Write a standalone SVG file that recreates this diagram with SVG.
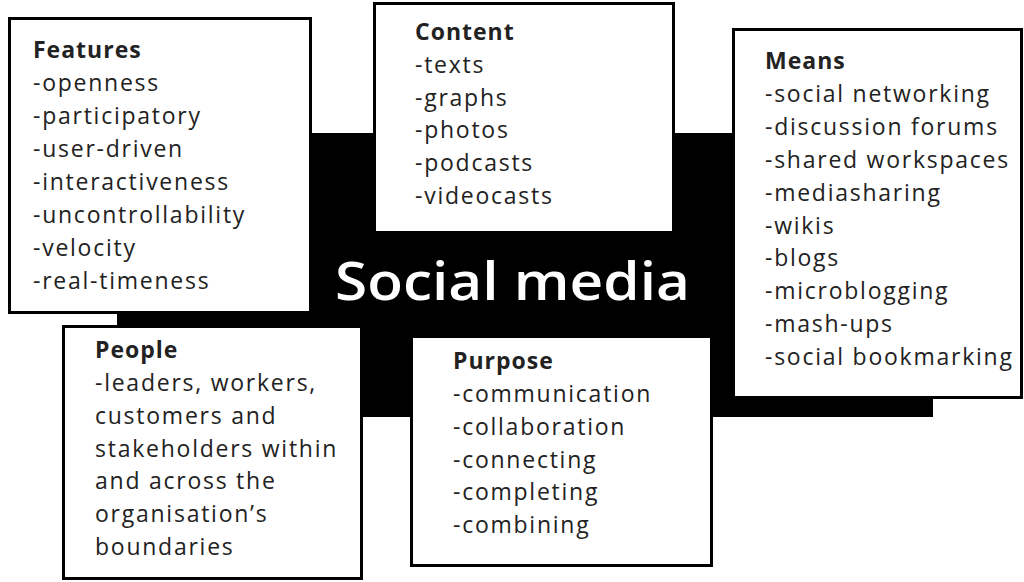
<svg xmlns="http://www.w3.org/2000/svg" width="1024" height="582" viewBox="0 0 1024 582">
<style>
.box{fill:#fff;stroke:#000;stroke-width:3}
.t{font-family:"Open Sans","Liberation Sans",sans-serif;font-size:23px;letter-spacing:1.75px;fill:#222}
.h{font-weight:bold;letter-spacing:1px}
.big{font-family:"Open Sans","Liberation Sans",sans-serif;font-size:52px;font-weight:600;fill:#fff}
</style>
<rect id="bg" x="117" y="133" width="816" height="284" fill="#000"/>
<text class="big" x="335" y="300" textLength="355" lengthAdjust="spacingAndGlyphs">Social media</text>
<g id="features">
<rect class="box" x="9.5" y="18.5" width="301" height="294"/>
<text class="t" x="33"><tspan class="h" x="33" y="58">Features</tspan><tspan x="33" y="91">-openness</tspan><tspan x="33" y="124">-participatory</tspan><tspan x="33" y="157">-user-driven</tspan><tspan x="33" y="190">-interactiveness</tspan><tspan x="33" y="223">-uncontrollability</tspan><tspan x="33" y="256">-velocity</tspan><tspan x="33" y="289">-real-timeness</tspan></text>
</g>
<g id="content">
<rect class="box" x="374.5" y="3.5" width="299" height="229"/>
<text class="t"><tspan class="h" x="415" y="40">Content</tspan><tspan x="415" y="73">-texts</tspan><tspan x="415" y="106">-graphs</tspan><tspan x="415" y="138">-photos</tspan><tspan x="415" y="171">-podcasts</tspan><tspan x="415" y="204">-videocasts</tspan></text>
</g>
<g id="means">
<rect class="box" x="733.5" y="29.5" width="288" height="368"/>
<text class="t"><tspan class="h" x="765" y="69">Means</tspan><tspan x="765" y="102">-social networking</tspan><tspan x="765" y="135">-discussion forums</tspan><tspan x="765" y="168">-shared workspaces</tspan><tspan x="765" y="201">-mediasharing</tspan><tspan x="765" y="234">-wikis</tspan><tspan x="765" y="266">-blogs</tspan><tspan x="765" y="299">-microblogging</tspan><tspan x="765" y="332">-mash-ups</tspan><tspan x="765" y="365">-social bookmarking</tspan></text>
</g>
<g id="people">
<rect class="box" x="63.5" y="326.5" width="298" height="252"/>
<text class="t"><tspan class="h" x="95" y="358">People</tspan><tspan x="95" y="391">-leaders, workers,</tspan><tspan x="95" y="424">customers and</tspan><tspan x="95" y="457">stakeholders within</tspan><tspan x="95" y="489">and across the</tspan><tspan x="95" y="522">organisation’s</tspan><tspan x="95" y="555">boundaries</tspan></text>
</g>
<g id="purpose">
<rect class="box" x="411.5" y="336.5" width="300" height="229"/>
<text class="t"><tspan class="h" x="453" y="369">Purpose</tspan><tspan x="453" y="402">-communication</tspan><tspan x="453" y="435">-collaboration</tspan><tspan x="453" y="468">-connecting</tspan><tspan x="453" y="500">-completing</tspan><tspan x="453" y="533">-combining</tspan></text>
</g>
<g id="connectors"/>
</svg>
